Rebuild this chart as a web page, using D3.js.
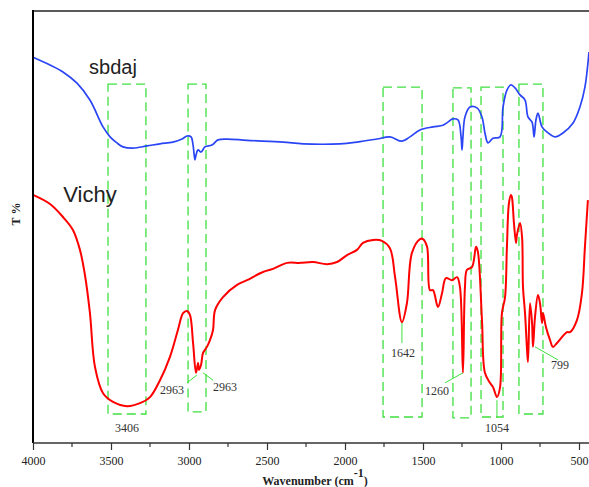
<!DOCTYPE html>
<html>
<head>
<meta charset="utf-8">
<script src="https://cdn.jsdelivr.net/npm/d3@7"></script>
<style>
  body { margin: 0; background: #fff; }
  svg { display: block; }
</style>
</head>
<body>
<script>

// wavenumber (cm-1) and transmittance (arbitrary T %)
var sbdajWave = [4000, 3891, 3808, 3718, 3635, 3551, 3506, 3462, 3423, 3359, 3269, 3186, 3103, 3045, 3013, 2987, 2974, 2962, 2955, 2942, 2923, 2897, 2853, 2814, 2756, 2628, 2397, 2269, 2032, 1923, 1795, 1712, 1635, 1584, 1519, 1436, 1372, 1340, 1314, 1276, 1256, 1250, 1244, 1231, 1199, 1154, 1122, 1103, 1083, 1051, 1006, 987, 962, 936, 910, 878, 846, 827, 801, 788, 776, 763, 737, 705, 654, 603, 538, 494, 462, 436];
var sbdajT = [89.1, 87.3, 85.7, 83.1, 79.2, 73.0, 70.7, 69.3, 68.4, 68.1, 68.6, 69.1, 69.5, 70.2, 70.9, 70.7, 68.8, 65.4, 66.5, 67.7, 67.2, 68.4, 68.8, 70.0, 70.2, 69.9, 69.5, 69.1, 69.1, 69.5, 70.2, 70.7, 69.7, 70.7, 72.3, 73.0, 73.4, 74.1, 74.8, 74.6, 70.7, 67.7, 70.7, 75.3, 77.6, 77.4, 75.3, 71.6, 69.3, 70.4, 70.7, 77.6, 81.5, 82.7, 82.0, 80.4, 79.2, 75.3, 74.1, 70.7, 74.6, 76.2, 73.0, 71.8, 70.7, 71.6, 73.9, 77.6, 82.2, 90.3];

var vichyWave = [4000, 3891, 3808, 3744, 3699, 3667, 3635, 3603, 3551, 3487, 3397, 3314, 3250, 3186, 3122, 3071, 3038, 3013, 2994, 2974, 2955, 2942, 2936, 2923, 2910, 2885, 2865, 2846, 2833, 2782, 2692, 2628, 2526, 2462, 2372, 2288, 2205, 2115, 2051, 1987, 1923, 1885, 1820, 1763, 1712, 1679, 1635, 1603, 1571, 1519, 1500, 1474, 1455, 1436, 1404, 1378, 1353, 1314, 1282, 1263, 1244, 1231, 1218, 1186, 1160, 1148, 1122, 1103, 1071, 1051, 1026, 1006, 994, 974, 962, 949, 936, 930, 917, 904, 898, 878, 865, 859, 846, 833, 827, 814, 801, 795, 782, 763, 750, 737, 731, 712, 686, 667, 641, 577, 558, 513, 481, 462, 443];
var vichyT = [57.3, 55.2, 52.2, 49.2, 44.6, 38.8, 30.0, 17.6, 11.5, 9.5, 8.5, 9.2, 10.6, 14.5, 19.9, 26.1, 30.0, 30.5, 29.6, 23.1, 16.2, 18.5, 16.9, 18.0, 20.8, 22.2, 23.8, 26.1, 30.7, 33.7, 36.5, 37.6, 39.5, 40.2, 41.6, 41.6, 41.8, 41.3, 41.8, 43.4, 44.6, 46.2, 46.9, 46.7, 45.0, 38.3, 27.9, 32.3, 43.9, 47.1, 47.1, 45.3, 35.3, 35.3, 31.4, 34.6, 38.1, 37.6, 38.3, 36.0, 16.2, 36.0, 40.0, 40.6, 45.3, 44.1, 28.4, 16.2, 13.9, 12.9, 10.6, 12.9, 30.0, 33.7, 45.3, 55.4, 57.3, 56.8, 50.8, 46.2, 48.0, 50.8, 47.6, 36.0, 30.0, 21.5, 18.7, 32.3, 27.7, 22.2, 29.1, 34.2, 32.3, 27.7, 30.0, 26.8, 23.8, 22.2, 23.1, 25.6, 25.6, 28.4, 34.6, 45.3, 56.1];

var seriesNames = ["sbdaj", "Vichy"];

// dashed band regions: [wave left, wave right, T top, T bottom]
var bands = [
  [3519, 3276, 82.9, 6.7],
  [3006, 2891, 82.9, 7.2],
  [1756, 1506, 82.2, 6.0],
  [1308, 1192, 82.0, 5.8],
  [1128, 987, 82.2, 6.0],
  [885, 731, 82.9, 6.7]
];

// peak labels: text, label position, leader line (or null)
var peakText = ["3406", "2963", "2963", "1642", "1260", "1054", "799"];
var peakPos = [[3397, 2.5], [3109, 11.3], [2769, 12.0], [1628, 19.9], [1410, 11.1], [1026, 2.5], [622, 17.1]];
var peakLine = [null, [3013, 13.9, 2949, 15.7], [2910, 16.2, 2846, 14.5], [1635, 27.7, 1635, 23.1], [1359, 13.9, 1244, 16.2], [1026, 9.9, 1026, 5.8], [782, 22.2, 635, 19.2]];

var xTicks = [4000, 3500, 3000, 2500, 2000, 1500, 1000, 500];

const W = 589, H = 487;
const plotLeft = 33, plotTop = 10, plotBottom = 443;

var svg = d3.select("body").append("svg")
    .attr("width", W)
    .attr("height", H);

var x = d3.scaleLinear()
    .domain([4000, 400])
    .range([plotLeft, plotLeft + 3600 * 0.156]);

var y = d3.scaleLinear()
    .domain([0, 100])
    .range([plotBottom, plotTop]);

// dashed green bands
svg.selectAll(".band")
    .data(bands)
    .enter()
    .append("rect")
    .attr("class", "band")
    .attr("x", function(d) { return x(d[0]); })
    .attr("y", function(d) { return y(d[2]); })
    .attr("width", function(d) { return x(d[1]) - x(d[0]); })
    .attr("height", function(d) { return y(d[3]) - y(d[2]); })
    .attr("fill", "none")
    .attr("stroke", "#3ee03e")
    .attr("stroke-width", 1.3)
    .attr("stroke-dasharray", "9,5");

var line = d3.line()
    .x(function(d) { return x(d[0]); })
    .y(function(d) { return y(d[1]); })
    .curve(d3.curveCatmullRom.alpha(0.5));

var sbdaj = d3.zip(sbdajWave, sbdajT);
var vichy = d3.zip(vichyWave, vichyT);

svg.append("path")
    .datum(sbdaj)
    .attr("d", line)
    .attr("fill", "none")
    .attr("stroke", "#2a45f5")
    .attr("stroke-width", 1.7);

svg.append("path")
    .datum(vichy)
    .attr("d", line)
    .attr("fill", "none")
    .attr("stroke", "#ff0000")
    .attr("stroke-width", 2);

// leader lines and peak numbers
svg.selectAll(".leader")
    .data(peakLine.filter(function(d) { return d; }))
    .enter()
    .append("line")
    .attr("class", "leader")
    .attr("x1", function(d) { return x(d[0]); })
    .attr("y1", function(d) { return y(d[1]); })
    .attr("x2", function(d) { return x(d[2]); })
    .attr("y2", function(d) { return y(d[3]); })
    .attr("stroke", "#3ee03e")
    .attr("stroke-width", 1);

svg.selectAll(".peak")
    .data(peakText)
    .enter()
    .append("text")
    .attr("class", "peak")
    .attr("x", function(d, i) { return x(peakPos[i][0]); })
    .attr("y", function(d, i) { return y(peakPos[i][1]); })
    .attr("text-anchor", "middle")
    .attr("font-family", "Liberation Serif, serif")
    .attr("font-size", "12px")
    .attr("fill", "#333")
    .text(function(d) { return d; });

// series names
svg.append("text")
    .attr("x", x(3487))
    .attr("y", y(85.2))
    .attr("text-anchor", "middle")
    .attr("font-family", "Liberation Sans, Arial, sans-serif")
    .attr("font-size", "20px")
    .attr("fill", "#222")
    .text(seriesNames[0]);

svg.append("text")
    .attr("x", x(3635))
    .attr("y", y(55.7))
    .attr("text-anchor", "middle")
    .attr("font-family", "Liberation Sans, Arial, sans-serif")
    .attr("font-size", "22px")
    .attr("fill", "#222")
    .text(seriesNames[1]);

// frame: top and left lines
svg.append("line")
    .attr("x1", plotLeft).attr("x2", W)
    .attr("y1", plotTop + 1).attr("y2", plotTop + 1)
    .attr("stroke", "#222")
    .attr("stroke-width", 1.5);

svg.append("line")
    .attr("x1", plotLeft).attr("x2", plotLeft)
    .attr("y1", plotTop).attr("y2", plotBottom)
    .attr("stroke", "#000")
    .attr("stroke-width", 2);

// bottom axis
var xAxis = svg.append("g")
    .attr("transform", "translate(0," + plotBottom + ")")
    .call(d3.axisBottom(x)
        .tickValues(xTicks)
        .tickFormat(d3.format("d"))
        .tickSize(7)
        .tickSizeOuter(0)
        .tickPadding(6));

xAxis.select(".domain")
    .attr("d", "M" + plotLeft + ",0H" + W)
    .attr("stroke", "#333")
    .attr("stroke-width", 1.5);

xAxis.selectAll(".tick line")
    .attr("stroke", "#333")
    .attr("stroke-width", 1.2);

xAxis.selectAll(".tick text")
    .attr("font-family", "Liberation Serif, serif")
    .attr("font-size", "12px")
    .attr("fill", "#222");

// minor ticks
svg.append("g")
    .selectAll("line")
    .data(d3.range(3750, 500, -500))
    .enter()
    .append("line")
    .attr("x1", function(d) { return x(d); })
    .attr("x2", function(d) { return x(d); })
    .attr("y1", plotBottom)
    .attr("y2", plotBottom + 4)
    .attr("stroke", "#333")
    .attr("stroke-width", 1.2);

// axis titles
var xTitle = svg.append("text")
    .attr("x", 315)
    .attr("y", 485)
    .attr("text-anchor", "middle")
    .attr("font-family", "Liberation Serif, serif")
    .attr("font-weight", "bold")
    .attr("font-size", "12px")
    .attr("fill", "#222");
xTitle.append("tspan").text("Wavenumber (cm");
xTitle.append("tspan").attr("dy", -8).text("-1");
xTitle.append("tspan").attr("dy", 8).text(")");

svg.append("text")
    .attr("transform", "translate(20,214) rotate(-90)")
    .attr("text-anchor", "middle")
    .attr("font-family", "Liberation Serif, serif")
    .attr("font-weight", "bold")
    .attr("font-size", "12px")
    .attr("fill", "#222")
    .text("T %");

</script>
</body>
</html>
